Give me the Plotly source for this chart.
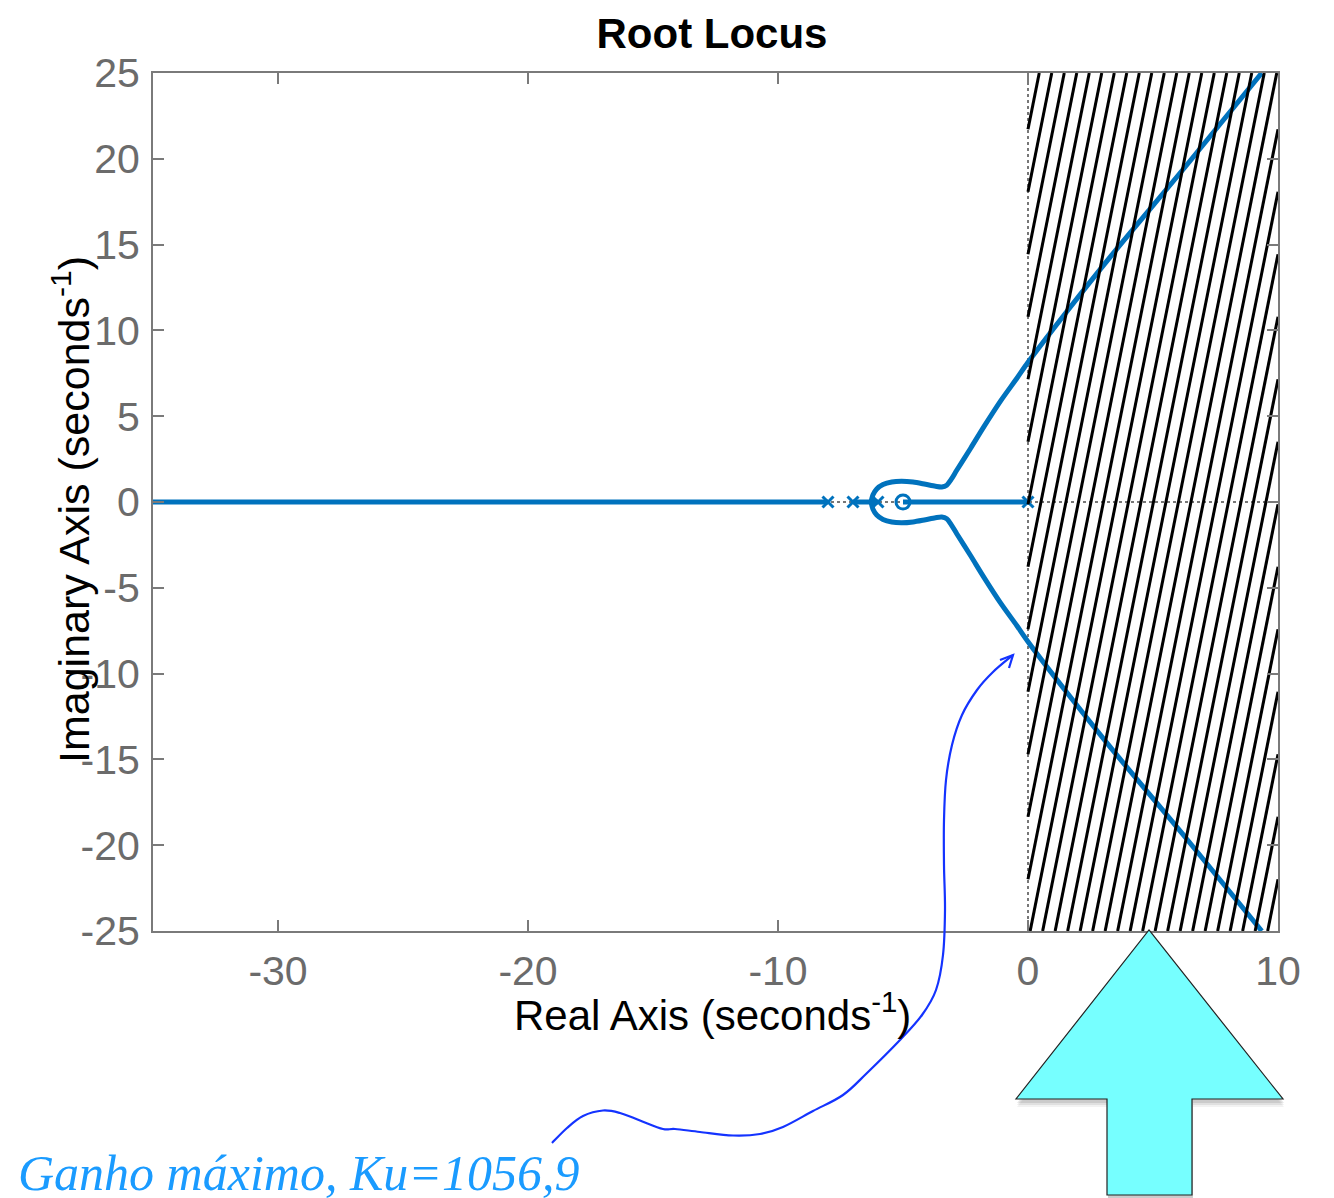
import plotly.graph_objects as go

# ---- system data -------------------------------------------------------
poles_re = [0.0, -6.0, -7.0, -8.0]
zeros_re = [-5.0]
ku_text = "Ganho máximo, Ku=1056,9"

# locus segments lying on the real axis (start, end)
real_seg_start = [-35.0, -7.0, -6.28, -5.0]
real_seg_end = [-8.0, -6.28, -6.0, 0.0]

# upper complex branch (the lower one is its conjugate)
branch_re = [-6.28, -6.2, -6.05, -5.8, -5.45, -5.05, -4.6, -4.1, -3.7, -3.45,
             -3.25, -3.08, -2.85, -2.3, -1.75, -1.1, -0.45, 0.0, 1.5, 3.3, 6.3, 9.35]
branch_im = [0.0, 0.42, 0.76, 1.02, 1.17, 1.21, 1.16, 1.03, 0.92, 0.88,
             0.98, 1.3, 1.85, 3.12, 4.42, 5.88, 7.2, 8.14, 11.0, 14.3, 19.55, 25.0]

x_ticks = [-30, -20, -10, 0, 10]
x_tick_text = ["-30", "-20", "-10", "0", "10"]
y_ticks = [25, 20, 15, 10, 5, 0, -5, -10, -15, -20, -25]
y_tick_text = ["25", "20", "15", "10", "5", "0", "-5", "-10", "-15", "-20", "-25"]

X_RANGE = [-35, 10]
Y_RANGE = [-25, 25]

# ---- page geometry -----------------------------------------------------
W, H = 1334, 1198
L, R, T, B = 153, 1278, 73, 931
BLUE = "#0072BD"
GRAY = "#7a7a7a"


def px(x, y):
    """pixel position -> paper coordinates"""
    return (x - L) / (R - L), (B - y) / (B - T)


def path_from_px(points, close=False):
    pts = [px(x, y) for x, y in points]
    d = "M {:.5f},{:.5f} ".format(*pts[0])
    d += " ".join("L {:.5f},{:.5f}".format(*p) for p in pts[1:])
    if close:
        d += " Z"
    return d


def smooth_path_px(points):
    """Catmull-Rom curve through pixel points, as an SVG path in paper units."""
    pts = [px(x, y) for x, y in points]
    d = "M {:.5f},{:.5f}".format(*pts[0])
    for i in range(len(pts) - 1):
        p0 = pts[i - 1] if i > 0 else pts[i]
        p1 = pts[i]
        p2 = pts[i + 1]
        p3 = pts[i + 2] if i + 2 < len(pts) else pts[i + 1]
        c1 = (p1[0] + (p2[0] - p0[0]) / 6, p1[1] + (p2[1] - p0[1]) / 6)
        c2 = (p2[0] - (p3[0] - p1[0]) / 6, p2[1] - (p3[1] - p1[1]) / 6)
        d += " C {:.5f},{:.5f} {:.5f},{:.5f} {:.5f},{:.5f}".format(*c1, *c2, *p2)
    return d


fig = go.Figure()

# dotted reference axes
for xs, ys in [(X_RANGE, [0, 0]), ([0, 0], Y_RANGE)]:
    fig.add_trace(go.Scatter(x=xs, y=ys, mode="lines",
                             line=dict(color="#777777", width=2, dash="dot"),
                             hoverinfo="skip", showlegend=False))

# real-axis parts of the locus
seg_x, seg_y = [], []
for a, b in zip(real_seg_start, real_seg_end):
    seg_x += [a, b, None]
    seg_y += [0, 0, None]
fig.add_trace(go.Scatter(x=seg_x, y=seg_y, mode="lines",
                         line=dict(color=BLUE, width=5), showlegend=False))

# complex branches
for sign in (1, -1):
    fig.add_trace(go.Scatter(x=branch_re, y=[sign * v for v in branch_im], mode="lines",
                             line=dict(color=BLUE, width=5, shape="spline", smoothing=0.8),
                             showlegend=False))

# poles and zeros
fig.add_trace(go.Scatter(x=poles_re, y=[0] * len(poles_re), mode="markers",
                         marker=dict(symbol="x-thin", size=11,
                                     line=dict(color=BLUE, width=3)),
                         showlegend=False))
fig.add_trace(go.Scatter(x=zeros_re, y=[0] * len(zeros_re), mode="markers",
                         marker=dict(symbol="circle-open", size=14, color=BLUE,
                                     line=dict(color=BLUE, width=3)),
                         showlegend=False))

# hatching over the right half plane
tilt_px = 0.2                                   # horizontal px per vertical px
drift = tilt_px * (B - T) / ((R - L) / (X_RANGE[1] - X_RANGE[0]))
hx, hy = [], []
xb = -drift - 0.05
while xb < 10:
    x0, x1 = xb, xb + drift
    y0, y1 = -25.0, 25.0

    def y_at(x):
        return y0 + (x - x0) / (x1 - x0) * (y1 - y0)

    cx0, cy0, cx1, cy1 = x0, y0, x1, y1
    if cx0 < 0:
        cx0, cy0 = 0.0, y_at(0.0)
    if cx1 > 10:
        cx1, cy1 = 10.0, y_at(10.0)
    if cx1 > cx0:
        hx += [cx0, cx1, None]
        hy += [cy0, cy1, None]
    xb += 0.5
fig.add_trace(go.Scatter(x=hx, y=hy, mode="lines",
                         line=dict(color="black", width=3),
                         hoverinfo="skip", showlegend=False))

# ---- axes --------------------------------------------------------------
axis_common = dict(showgrid=False, zeroline=False, showline=True, linecolor=GRAY,
                   linewidth=2, mirror="ticks", ticks="inside", ticklen=11,
                   tickwidth=2, tickcolor=GRAY,
                   tickfont=dict(family="Liberation Sans", size=41, color="#6b6b6b"))
fig.update_xaxes(range=X_RANGE, tickvals=x_ticks, ticktext=x_tick_text,
                 ticklabelstandoff=3, **axis_common)
fig.update_yaxes(range=Y_RANGE, tickvals=y_ticks, ticktext=y_tick_text,
                 ticklabelstandoff=3, **axis_common)

# ---- decorations -------------------------------------------------------
shapes = []
arrow_pts = [(1149, 930), (1283, 1099), (1192, 1099), (1192, 1195),
             (1107, 1195), (1107, 1099), (1016, 1099)]
for off, op in [(8, 0.05), (6, 0.07), (4, 0.09)]:
    shadow = [(x + 1, y + off) for x, y in arrow_pts]
    shapes.append(dict(type="path", xref="paper", yref="paper",
                       path=path_from_px(shadow, close=True),
                       fillcolor="rgba(0,0,0,{})".format(op), line=dict(width=0)))
shapes.append(dict(type="path", xref="paper", yref="paper",
                   path=path_from_px(arrow_pts, close=True),
                   fillcolor="#76FFFF", line=dict(color="#222222", width=1.2)))

pointer_px = [(552, 1143), (567, 1128), (583, 1116), (603, 1110.5), (620, 1113),
              (640, 1120.5), (663, 1129), (675, 1129), (700, 1132), (733, 1135.5),
              (760, 1134), (783, 1127), (813, 1111), (843, 1095), (867, 1073),
              (900, 1040), (922, 1015), (936, 990), (943, 955), (945, 910),
              (944, 865), (944, 820), (946, 780), (952, 745), (962, 715),
              (977, 690), (993, 672), (1013, 655)]
shapes.append(dict(type="path", xref="paper", yref="paper",
                   path=smooth_path_px(pointer_px), line=dict(color="#1433ff", width=2.2)))
shapes.append(dict(type="path", xref="paper", yref="paper",
                   path=path_from_px([(1000, 660), (1013, 655), (1009, 668)]),
                   line=dict(color="#1433ff", width=2.2)))

annotations = [
    dict(xref="paper", yref="paper", x=px(712, 0)[0], y=px(0, 1012)[1],
         text="Real Axis (seconds<sup>-1</sup>)", showarrow=False,
         xanchor="center", yanchor="middle",
         font=dict(family="Liberation Sans", size=42, color="black")),
    dict(xref="paper", yref="paper", x=px(71, 0)[0], y=px(0, 510)[1],
         text="Imaginary Axis (seconds<sup>-1</sup>)", showarrow=False, textangle=-90,
         xanchor="center", yanchor="middle",
         font=dict(family="Liberation Sans", size=43, color="black")),
    dict(xref="paper", yref="paper", x=px(16, 0)[0], y=px(0, 1173)[1],
         text="<i>" + ku_text + "</i>", showarrow=False,
         xanchor="left", yanchor="middle",
         font=dict(family="Liberation Serif", size=50, color="#1a9bff")),
]

fig.update_layout(
    width=W, height=H,
    margin=dict(l=L, r=W - R, t=T, b=H - B, pad=0),
    paper_bgcolor="white", plot_bgcolor="white",
    title=dict(text="<b>Root Locus</b>", x=712 / W,
               xanchor="center", y=1 - 33 / H, yanchor="middle",
               font=dict(family="Liberation Sans", size=42, color="black")),
    shapes=shapes, annotations=annotations, showlegend=False,
)

fig.write_html("out.html", post_script="document.body.style.margin='0';")
